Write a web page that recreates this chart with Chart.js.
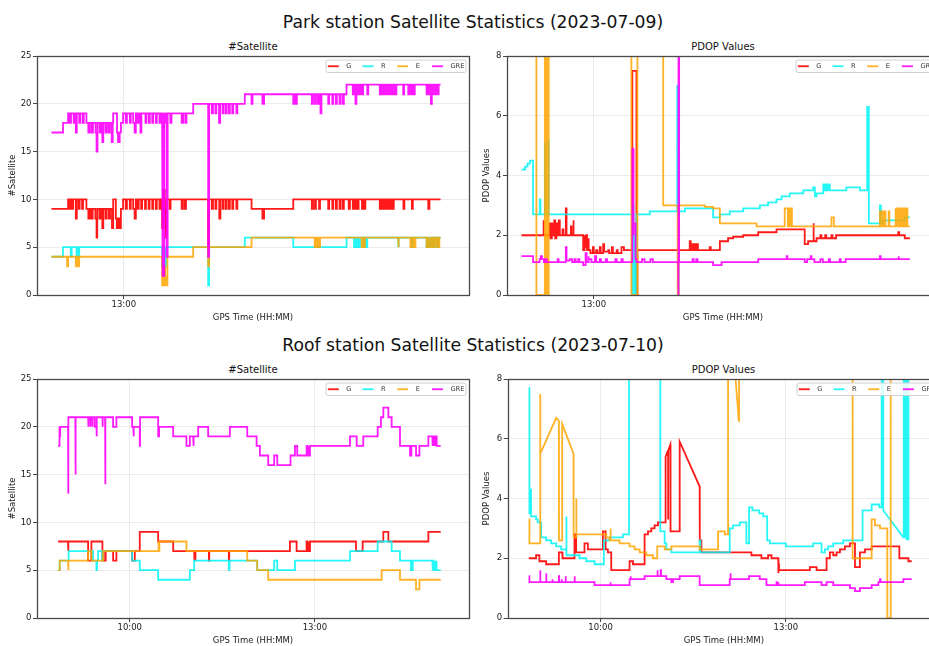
<!DOCTYPE html>
<html><head><meta charset="utf-8">
<script src="https://cdn.jsdelivr.net/npm/chart.js@4.4.1/dist/chart.umd.min.js"></script>
<style>
html,body{margin:0;padding:0;background:#fff;overflow:hidden;}
#wrap{position:relative;width:929px;height:646px;overflow:hidden;background:#fff;font-family:'DejaVu Sans',sans-serif;}
canvas{position:absolute;}
.t{position:absolute;white-space:nowrap;transform:translate(-50%,-50%);color:#111;line-height:1;}
</style></head><body>
<div id="wrap">
<div class="t" style="left:473px;top:22.5px;font-size:17.2px">Park station Satellite Statistics (2023-07-09)</div>
<div class="t" style="left:473px;top:345.7px;font-size:17.2px">Roof station Satellite Statistics (2023-07-10)</div>
<div class="t" style="left:253px;top:47px;font-size:10px">#Satellite</div>
<div class="t" style="left:723px;top:47px;font-size:10px">PDOP Values</div>
<div class="t" style="left:253px;top:370px;font-size:10px">#Satellite</div>
<div class="t" style="left:723.5px;top:370px;font-size:10px">PDOP Values</div>
<canvas id="c1" width="475" height="330" style="left:0;top:0"></canvas>
<canvas id="c2" width="480" height="330" style="left:470px;top:0"></canvas>
<canvas id="c3" width="475" height="316" style="left:0;top:330px"></canvas>
<canvas id="c4" width="480" height="316" style="left:470px;top:330px"></canvas>
</div>
<script>
// ---- data: [minutes since midnight, value] ; third element 1 = straight ramp from previous point
const seriesNames = ['G','R','E','GRE'];
const seriesColors = ['rgba(255,0,0,0.9)','rgba(0,245,245,0.85)','rgba(255,165,0,0.85)','rgba(255,0,255,0.9)'];

const parkTickLabels = ['13:00'];
const roofTickLabels = ['10:00','13:00'];

const parkSatG = [[750,9],[756.9,10],[757.5,9],[757.9,10],[758.6,9],[759,10],[760.1,8],[760.5,10],[761.3,9],[761.7,10],[762.7,9],[763.1,10],[764.5,9],[765.3,8],[765.8,9],[766.5,8],[767.1,9],[768.2,8],[768.7,6],[769,9],[769.9,8],[770.4,9],[771.1,7],[771.5,9],[772.4,8],[772.9,9],[773.8,8],[774.3,9],[775.1,7],[775.6,10],[776.7,8],[777.1,7],[777.6,8],[778.3,7],[778.8,9],[779.7,10],[780.8,9],[781.3,10],[782.5,9],[782.9,10],[783.9,9],[784.5,8],[785,10],[785.6,9],[786.2,10],[787.2,9],[787.6,10],[788.8,9],[789.2,10],[790.3,9],[790.7,10],[791.8,9],[792.2,10],[793.3,9],[793.7,10],[794.8,9],[795.2,10],[795.9,7],[796.4,11],[797,9],[797.4,6],[797.8,10],[799,9],[799.4,10],[804,9],[804.5,10],[805.3,9],[805.8,10],[815,4],[815.4,10],[816.5,9],[817,10],[818,9],[818.4,10],[819.6,8],[820.1,10],[821,9],[821.4,10],[822.3,9],[822.7,10],[823.6,9],[824,10],[825,9],[825.4,10],[826.7,9],[827.1,10],[833,9],[837.5,8],[838.2,9],[850.3,10],[858,9],[858.5,10],[859.3,9],[859.7,10],[861,9],[861.4,10],[864.8,9],[865.2,10],[866.5,9],[866.9,10],[868,9],[868.4,10],[869.5,9],[869.9,10],[870.8,9],[871.3,10],[873.3,9],[873.8,10],[875,9],[875.5,10],[876.1,9],[876.5,10],[877,9],[877.4,10],[878.8,9],[879.2,10],[879.8,9],[880.2,10],[886.2,9],[886.7,10],[887.3,9],[887.7,10],[888.3,9],[888.7,10],[889.3,9],[889.7,10],[890.4,9],[890.8,10],[891.5,9],[892,10],[896,9],[896.4,10],[899.5,9],[899.9,10],[906.3,9],[906.8,10],[911.4,10]];
const parkSatR = [[750,4],[754.8,5],[758,4],[758.4,5],[760.4,4],[760.8,5],[761.1,4],[761.5,5],[795.9,3],[796.5,2],[797,5],[797.3,3],[797.7,5],[815,1],[815.4,5],[830.2,6],[850.3,5],[872.4,6],[875.5,5],[876,6],[876.5,5],[877,6],[877.6,5],[878,6],[879.3,5],[879.8,6],[880.6,5],[881,6],[893.8,5],[894.1,6],[899.5,5],[899.9,6],[905.6,5],[906,6],[906.5,5],[907,6],[907.6,5],[908,6],[908.7,5],[909.1,6],[910,5],[910.5,6],[911.4,6]];
const parkSatE = [[750,4],[756.5,3],[756.9,4],[760.1,3],[760.5,4],[761.1,3],[761.5,4],[795.9,1],[796.4,3],[796.6,1],[797,3],[797.2,1],[797.6,2],[797.8,1],[798.1,4],[808.8,5],[815,3],[815.4,5],[833,6],[859.2,5],[859.6,6],[860,5],[860.4,6],[861,5],[861.4,6],[878.7,5],[879.1,6],[879.6,5],[880,6],[893.8,5],[894.1,6],[898.9,5],[899.3,6],[899.7,5],[900.1,6],[900.6,5],[901,6],[905.6,5],[906,6],[906.3,5],[906.7,6],[907,5],[907.4,6],[907.7,5],[908.1,6],[908.4,5],[908.8,6],[909.1,5],[909.5,6],[909.8,5],[910.2,6],[910.5,5],[910.9,6],[911.4,6]];
const parkSatGRE = [[750,17],[754.8,18],[756.9,19],[757.6,18],[758.1,19],[759.2,18],[759.6,19],[760.1,17],[760.5,19],[761.5,18],[762,19],[763,18],[763.4,19],[764.5,18],[765.3,17],[765.9,18],[766.7,17],[767.2,18],[768.3,17],[768.7,15],[769.1,18],[770,17],[770.5,18],[771.1,16],[771.5,18],[772.4,17],[772.9,18],[773.7,17],[774.2,18],[775,16],[775.4,18],[775.6,19],[777.2,17],[777.6,16],[778.3,17],[778.8,18],[779.7,19],[780.8,18],[781.3,19],[782.5,18],[782.9,19],[783.9,18],[784.5,17],[785,19],[785.6,18],[786.2,19],[786.9,17],[787.3,19],[789,18],[789.4,19],[790.4,18],[790.8,19],[791.8,18],[792.2,19],[793.3,18],[793.7,19],[794.8,18],[795.2,19],[795.9,12],[796.2,2],[796.8,19],[797.5,18],[797.8,4],[798.2,19],[799.3,18],[799.8,19],[804,18],[804.6,19],[805.5,18],[806,19],[808.8,20],[815,4],[815.4,20],[816.5,19],[817,20],[818,19],[818.4,20],[819.5,18],[820,20],[821,19],[821.4,20],[822.3,19],[822.7,20],[823.6,19],[824,20],[825,19],[825.4,20],[826.7,19],[827.1,20],[830.2,21],[833,20],[833.4,21],[837.5,20],[838.2,21],[850.3,20],[850.8,21],[851.4,20],[851.8,21],[858,20],[858.5,21],[859.3,20],[859.7,21],[860.5,20],[860.9,21],[861.6,19],[862,21],[864.8,20],[865.2,21],[866.5,20],[866.9,21],[868,20],[868.4,21],[869.5,20],[869.9,21],[870.8,20],[871.3,21],[872.4,22],[875,21],[875.5,22],[876.1,20],[876.5,22],[877,21],[877.4,22],[877.9,21],[878.3,22],[878.8,21],[879.3,22],[881,21],[881.4,22],[886.2,21],[886.7,22],[887.3,21],[887.7,22],[888.3,21],[888.7,22],[889.3,21],[889.7,22],[890.4,21],[890.8,22],[891.5,21],[892,22],[892.6,21],[893.1,22],[895.9,21],[896.3,22],[898,21],[898.5,22],[899.2,21],[899.6,22],[900.2,21],[900.7,22],[905.6,21],[906,22],[906.5,21],[906.9,22],[907.4,20],[907.8,22],[908.3,21],[908.7,22],[909.3,21],[909.7,22],[910.2,21],[910.6,22],[911.4,22]];

const parkPdopG = [[750,2.0],[759,2.5],[759.3,2.0],[761.7,2.4],[762,1.9],[762.6,2.4],[763,2.0],[763.6,2.5],[764,1.9],[764.5,2.4],[764.9,2.0],[765.5,2.5],[765.9,2.0],[767,2.2],[767.4,2.0],[768.4,2.9],[768.7,2.0],[770.5,2.3],[770.8,2.0],[771.4,2.5],[771.7,2.0],[775.6,1.5],[776,2.0],[776.3,1.6],[776.8,2.0],[777.2,1.5],[777.6,1.9],[778,1.5],[778.6,1.4],[779.6,1.6],[780,1.4],[781,1.5],[781.5,1.4],[782.5,1.6],[782.9,1.4],[783.9,1.7],[784.3,1.45],[786,1.5],[786.4,1.4],[787.5,1.6],[787.9,1.4],[789.5,1.5],[789.9,1.4],[791.5,1.6],[792.5,1.5],[796,7.5],[797.7,0],[798.1,1.5],[819.8,1.8],[820.2,1.5],[820.8,1.7],[821.2,1.5],[821.9,1.7],[822.3,1.5],[822.8,1.7],[823.2,1.5],[828.1,1.6],[828.5,1.5],[832.3,1.8],[835.7,1.9],[837.8,1.95],[842,2.0],[848.2,2.1],[855.8,2.2],[866.9,2.2],[867.5,1.7],[868.9,1.8],[871,2.4],[871.3,1.8],[872.4,1.9],[874,2.0],[874.4,1.9],[876,2.0],[876.4,1.9],[878.6,2.0],[879,1.9],[880.5,2.0],[906.3,2.1],[906.7,2.0],[909,1.9],[911.1,1.9]];
const parkPdopR = [[750,4.2],[751.5,4.3],[752.5,4.4],[753.5,4.5],[754.8,2.7],[757.6,3.2],[757.9,2.7],[759.7,5.1],[760,2.7],[761.1,5.2],[761.4,2.7],[796,0],[796.3,3.1],[796.6,0.2],[797,2.0],[797.3,0],[797.7,2.7],[803.2,2.8],[814.6,7.0],[815,0],[815.3,2.8],[817.8,2.9],[829.5,2.6],[832.3,2.7],[836.4,2.8],[842,2.9],[848.9,3.0],[852.3,3.1],[855.8,3.2],[857.9,3.3],[861.3,3.4],[866.9,3.5],[871,3.6],[871.7,3.3],[872.4,3.4],[875.2,3.7],[875.6,3.5],[876.1,3.7],[876.5,3.5],[877.2,3.7],[877.9,3.5],[884.8,3.6],[890.4,3.5],[893.4,6.3],[894.1,2.4],[898.7,3.0],[899.1,2.4],[900,2.5],[909,2.6],[911.1,2.6]];
const parkPdopE = [[750,12],[756.2,0],[759.7,12],[760.2,0],[760.6,12],[761.1,0],[761.4,12],[795.6,0],[798.1,12],[808.8,3.0],[814.8,0],[815.2,3.0],[826.1,2.95],[829.5,2.9],[832.3,2.4],[847.5,2.3],[859.2,2.9],[860.5,2.3],[860.8,2.9],[861.3,2.3],[861.8,2.9],[862.2,2.3],[878.6,2.6],[879.6,2.3],[898.7,2.8],[899,2.3],[899.6,2.8],[900,2.3],[900.6,2.8],[901,2.3],[902.3,2.8],[902.6,2.3],[905,2.9],[905.3,2.3],[905.7,2.9],[906.1,2.3],[906.5,2.9],[906.9,2.3],[907.3,2.9],[907.7,2.3],[908.1,2.9],[908.5,2.3],[908.9,2.9],[909.3,2.3],[909.7,2.9],[910.1,2.3],[911.1,2.3]];
const parkPdopGRE = [[750,1.3],[754.8,1.1],[757.5,1.2],[758,1.3],[758.5,1.2],[759.3,1.1],[760,1.2],[760.5,1.1],[765,1.2],[765.4,1.1],[768.4,1.6],[768.7,1.15],[770,1.2],[771,1.1],[772,1.2],[772.5,1.1],[773.5,1.2],[774,1.1],[775.6,1.0],[776.6,1.4],[777,1.1],[777.6,1.3],[778,1.2],[779,1.1],[780.5,1.3],[781,1.1],[782.5,1.2],[783,1.1],[785,1.2],[785.5,1.1],[789,1.2],[789.5,1.1],[791.5,1.2],[792,1.1],[796,4.9],[796.3,2.0],[796.6,2.4],[797.3,1.2],[797.7,1.1],[800,1.2],[801,1.1],[803.5,1.2],[804.5,1.1],[815,0],[815.2,12],[815.4,1.1],[821,1.2],[821.4,1.1],[822.5,1.2],[823,1.1],[829.5,1.0],[833,1.1],[848.2,1.2],[860,1.3],[860.3,1.2],[867.5,1.1],[868.5,1.2],[870,1.3],[870.3,1.2],[871.5,1.1],[874,1.2],[875,1.1],[877.5,1.2],[878,1.1],[882,1.2],[882.4,1.1],[884.5,1.2],[898.7,1.3],[899,1.2],[906.3,1.3],[906.6,1.2],[911.1,1.2]];

const roofSatG = [[530.3,8],[540,7],[540.4,8],[559.5,6],[562.7,8],[573.4,6],[574.2,7],[574.8,6],[576.6,7],[583.8,6],[587,7],[602.3,6],[604.9,7],[609.7,9],[627.6,8],[642.2,7],[662.6,6],[663,7],[663.5,6],[664,7],[676.9,6],[677.3,7],[696.3,6],[696.7,7],[755.7,8],[762.2,7],[771.9,8],[772.5,7],[773.5,8],[774.2,7],[775.2,8],[819.9,7],[826.4,8],[846.5,9],[851.4,8],[890.3,9],[902.3,9]];
const roofSatR = [[530.3,5],[531.9,6],[540.6,7],[564.3,6],[567.6,5],[568.2,6],[569.2,7],[573.1,6],[574.1,7],[602.3,6],[609.7,5],[627.6,4],[658.4,5],[662.6,6],[696.3,5],[697,6],[723.9,5],[740.4,6],[743.4,5],[760.6,6],[814.1,7],[841,8],[854.6,7],[862.7,6],[873.4,5],[875.1,6],[894.2,5],[894.7,6],[895.3,5],[895.8,6],[896.4,5],[896.9,6],[897.5,5],[898,6],[898.4,5],[902.3,5]];
const roofSatE = [[530.3,5],[531.9,6],[540,5],[540.6,6],[559.5,7],[562.7,6],[574.1,7],[627.6,8],[628.2,7],[628.8,8],[655.1,7],[714.2,6],[723.9,5],[734.6,4],[844.9,5],[862.7,4],[878.3,3],[881.6,4],[902.3,4]];
const roofSatGRE = [[530.3,18],[531.2,20],[531.9,19],[532.3,20],[540,13],[540.4,21],[547.1,15],[547.5,21],[559.5,20],[560,21],[561.5,20],[562,21],[563.5,20],[564,21],[566,20],[567.6,19],[568,21],[573.4,20],[573.8,21],[576,14],[576.4,21],[583.8,20],[587,21],[602.3,20],[603.5,19],[604,20],[609.7,18],[610,21],[627.6,19],[628.5,20],[642.2,19],[655.1,18],[658.4,19],[661.6,18],[662.3,19],[666.5,20],[676.2,19],[697.3,20],[714.2,19],[723.3,18],[726.5,17],[734.6,16],[740.4,17],[743.4,16],[756.3,17],[760.6,18],[762.8,17],[771.9,18],[772.5,17],[773.5,18],[774.2,17],[775.2,18],[814.1,19],[820.6,18],[827,19],[841,20],[844.2,21],[846.5,22],[851.4,21],[854.6,20],[862.7,18],[872.5,17],[873.8,18],[878.3,17],[881.6,18],[890.3,19],[894.2,18],[894.6,19],[895.2,18],[895.6,19],[896.2,18],[896.6,19],[897.2,18],[897.6,19],[898.4,18],[902.3,18]];

const roofPdopG = [[530.3,2.0],[537.4,2.1],[540.6,1.9],[547.1,1.8],[559.5,2.2],[562.7,2.1],[563.3,2.0],[574.7,2.8],[576.3,2.2],[584.4,2.5],[587.7,2.3],[602.3,2.9],[604.9,2.3],[607.1,2.2],[610.4,1.6],[628.2,1.9],[631.5,1.8],[642.8,2.8],[646.1,2.9],[649.3,3.0],[652.5,3.1],[655.8,3.2],[663.2,5.4],[665.5,5.6,1],[665.6,3.3],[665.8,5.6],[667.8,5.8,1],[668,2.9],[673.6,2.9],[676.9,5.9],[696.3,4.4,1],[696.4,2.6],[698,2.2],[746.6,2.1],[756.3,2.0],[762.8,2.1],[766.1,2.0],[772.6,1.5],[773,1.8],[773.4,1.6],[803.4,1.7],[809.9,1.6],[819.6,2.0],[822.8,2.2],[826.1,2.1],[829.3,2.2],[832.6,2.3],[837.4,2.4],[842.3,2.5],[847.2,1.7],[852,2.2],[856.9,2.3],[863.4,2.4],[890.3,2.0],[899.1,1.9],[902.3,1.9]];
const roofPdopR = [[530.3,7.7],[530.9,3.5],[531.8,4.3],[532.5,3.4],[537.4,3.3],[539,3.2],[542.3,2.7],[547.1,2.6],[552,2.5],[556.9,2.4],[561.7,2.3],[566.6,3.4],[567,2.1],[579.6,2.0],[586.1,1.9],[594.2,1.8],[603.2,2.6],[608.8,2.7],[621.7,2.8],[627.6,12],[658.1,2.9],[662.3,2.5],[663.9,2.3],[668.8,2.2],[696.3,2.6],[697,2.2],[725.5,3.0],[728.8,3.1],[735.3,3.2],[741.7,2.5],[744.3,3.7],[747.6,3.6],[754.1,3.5],[758,3.4],[761.9,2.6],[764.5,2.5],[780,2.4],[806.6,2.5],[814.7,2.2],[818,2.3],[821.2,2.4],[826.1,2.5],[835.8,2.6],[854.6,3.6],[863.4,3.8],[870.8,3.7],[873.1,12],[874.7,3.6],[894.2,2.7,1],[894.3,12],[894.8,2.7],[895.3,12],[895.9,2.7],[896.4,12],[897,2.6],[897.5,12],[898.1,2.6],[898.6,12],[899.1,2.6]];
const roofPdopE = [[530.3,3.3],[530.9,2.5],[541.3,7.5],[541.5,5.5],[556.9,6.7,1],[559.5,6.6,1],[559.6,2.6],[562.7,6.5],[573.7,5.5,1],[573.8,2.7],[576.3,4.0],[576.6,2.8],[605.5,2.7],[608.8,2.6],[609.4,3.0],[610,2.6],[618.5,2.5],[628.2,2.4],[633.1,2.3],[638,2.2],[644.4,2.1],[650.9,2.0],[655.1,2.4],[662.3,2.3],[668.8,2.4],[696.3,2.3],[714.2,2.9],[720.7,2.8],[723.9,12],[729,9],[734.3,6.6,1],[734.6,12],[844.9,2.0],[863.4,3.3],[866.6,3.1],[871.5,3.0],[878.6,0],[881.9,12],[902.3,12]];
const roofPdopGRE = [[530.3,1.4],[530.9,1.2],[541.3,1.6],[541.6,1.2],[547.1,1.5],[547.4,1.2],[553,1.3],[553.5,1.2],[559.5,1.4],[559.8,1.2],[562,1.3],[562.5,1.2],[566,1.4],[566.3,1.2],[574.7,1.4],[575,1.2],[594.2,1.1],[609.4,1.2],[610,1.1],[628.2,1.3],[629,1.4],[629.5,1.3],[642.8,1.4],[655.1,1.6],[655.6,1.4],[658.4,1.6],[658.8,1.4],[663.9,1.3],[668.8,1.2],[670.4,1.3],[676.9,1.4],[696.3,1.1],[725.5,1.3],[726,1.5],[726.5,1.3],[744.3,1.4],[754.7,1.3],[761.2,1.1],[771,1.2],[771.5,1.1],[772.6,1.2],[773,1.1],[798.5,1.2],[814.7,1.1],[819.6,1.2],[826.1,1.1],[842.3,1.0],[847.2,0.9],[852,1.0],[863.4,1.1],[869.9,1.2],[871.5,1.3],[872,1.2],[894.2,1.3],[902.3,1.3]];

// ---- helpers
const F = "'DejaVu Sans', sans-serif";
function toMin(s){ const [h,m]=s.split(':').map(Number); return h*60+m; }
function toXY(list){
  const out=[]; let prev=null;
  for(const [t,v,ramp] of list){
    if(prev!==null && !ramp) out.push({x:t,y:prev});
    out.push({x:t,y:v}); prev=v;
  }
  return out;
}
const framePlugin = {
  id:'frame',
  afterDatasetsDraw(chart){
    const {ctx, chartArea:a} = chart;
    ctx.save(); ctx.strokeStyle='#4a4a4a'; ctx.lineWidth=1.3;
    ctx.strokeRect(Math.round(a.left)+0.5, Math.round(a.top)+0.5, Math.round(a.right-a.left), Math.round(a.bottom-a.top));
    ctx.restore();
  }
};
const legendPlugin = {
  id:'innerLegend',
  afterDraw(chart){
    const {ctx, chartArea:a} = chart;
    const w=140, h=12.5, x0=a.right-3.5-w, y0=a.top+3.5;
    ctx.save();
    ctx.beginPath();
    if (ctx.roundRect) ctx.roundRect(x0+0.5,y0+0.5,w,h,2); else ctx.rect(x0+0.5,y0+0.5,w,h);
    ctx.fillStyle='rgba(255,255,255,0.85)'; ctx.fill();
    ctx.strokeStyle='#d0d0d0'; ctx.lineWidth=1; ctx.stroke();
    ctx.font="6.7px "+F; ctx.textBaseline='middle'; ctx.fillStyle='#333';
    chart.data.datasets.forEach((d,i)=>{
      const lx=x0+2.3+i*34.7, ly=y0+h/2+0.5;
      ctx.strokeStyle=d.borderColor; ctx.lineWidth=1.8;
      ctx.beginPath(); ctx.moveTo(lx,ly); ctx.lineTo(lx+11,ly); ctx.stroke();
      ctx.fillText(d.label, lx+18.5, ly);
    });
    ctx.restore();
  }
};

function panel(id, c){
  const datasets = c.series.map((s,i)=>({
    label: seriesNames[i], data: toXY(s), borderColor: seriesColors[i], backgroundColor: seriesColors[i],
    borderWidth: 1.8, pointRadius: 0, fill: false, tension: 0, order: 3-i
  }));
  const tickVals = c.tickLabels.map(toMin);
  new Chart(document.getElementById(id), {
    type:'line',
    data:{datasets},
    options:{
      responsive:false, animation:false, devicePixelRatio:1, events:[],
      layout:{padding:c.pad},
      plugins:{legend:{display:false}, tooltip:{enabled:false}, title:{display:false}},
      scales:{
        x:{type:'linear', min:c.xmin, max:c.xmax,
          afterBuildTicks:(s)=>{ s.ticks = tickVals.map(v=>({value:v})); },
          afterFit:(s)=>{ s.height=c.xh; },
          ticks:{callback:(v,i)=>c.tickLabels[i], font:{family:F,size:8.5}, color:'#222', padding:1, maxRotation:0, autoSkip:false},
          grid:{color:'#ebebeb', tickColor:'#444', tickLength:4, lineWidth:1},
          border:{display:false},
          title:{display:true, text:'GPS Time (HH:MM)', font:{family:F,size:8.5}, color:'#222', padding:{top:0,bottom:c.xtp}}
        },
        y:{min:0, max:c.ymax,
          afterFit:(s)=>{ s.width=c.yw; },
          ticks:{stepSize:c.ystep, font:{family:F,size:8.5}, color:'#222', padding:1.5},
          grid:{color:'#ebebeb', tickColor:'#444', tickLength:4, lineWidth:1},
          border:{display:false},
          title:{display:true, text:c.ytitle, font:{family:F,size:8.5}, color:'#222', padding:{top:c.ytp,bottom:0}}
        }
      }
    },
    plugins:[framePlugin, legendPlugin]
  });
}

panel('c1',{series:[parkSatG,parkSatR,parkSatE,parkSatGRE], tickLabels:parkTickLabels, xmin:744, xmax:923.2,
  ymax:25, ystep:5, ytitle:'#Satellite', pad:{top:56,right:6,left:0,bottom:0}, yw:37, xh:35, xtp:7.4, ytp:7.6});
panel('c2',{series:[parkPdopG,parkPdopR,parkPdopE,parkPdopGRE], tickLabels:parkTickLabels, xmin:744, xmax:923.2,
  ymax:8, ystep:2, ytitle:'PDOP Values', pad:{top:56,right:11,left:0,bottom:0}, yw:37, xh:35, xtp:7.4, ytp:11.9});
panel('c3',{series:[roofSatG,roofSatR,roofSatE,roofSatGRE], tickLabels:roofTickLabels, xmin:509.8, xmax:929.8,
  ymax:25, ystep:5, ytitle:'#Satellite', pad:{top:49,right:6,left:0,bottom:0}, yw:37, xh:28, xtp:0.2, ytp:7.6});
panel('c4',{series:[roofPdopG,roofPdopR,roofPdopE,roofPdopGRE], tickLabels:roofTickLabels, xmin:509.8, xmax:929.8,
  ymax:8, ystep:2, ytitle:'PDOP Values', pad:{top:49,right:10,left:0,bottom:0}, yw:37.7, xh:28, xtp:0.2, ytp:11.9});
</script>
</body></html>
